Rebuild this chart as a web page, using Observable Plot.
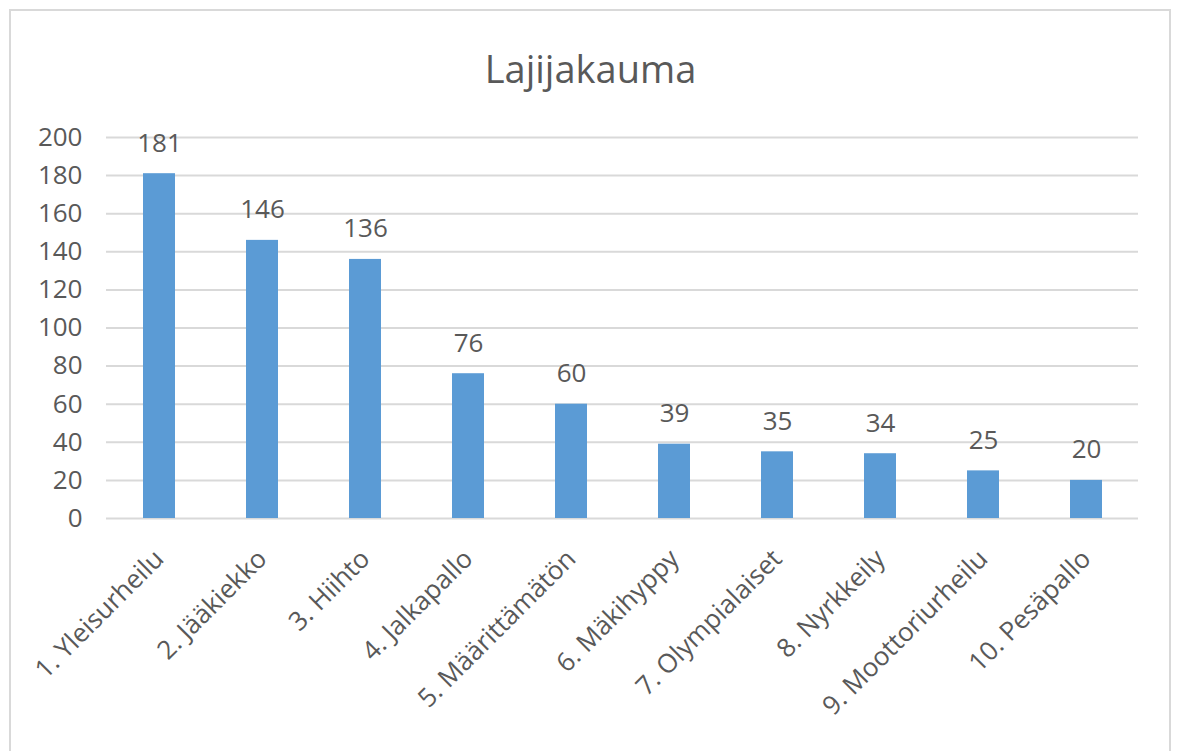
<!DOCTYPE html>
<html>
<head>
<meta charset="utf-8">
<script src="https://cdn.jsdelivr.net/npm/d3@7"></script>
<script src="https://cdn.jsdelivr.net/npm/@observablehq/plot@0.6"></script>
<style>
  html, body { margin: 0; padding: 0; background: #fff; }
  #wrap { position: relative; width: 1180px; height: 751px; overflow: hidden; font-family: "Open Sans", sans-serif; }
  #frame { position: absolute; left: 9px; top: 9px; width: 1162px; height: 800px; border: 2px solid #d9d9d9; box-sizing: border-box; }
  #title { position: absolute; left: 9px; width: 1163px; top: 44px; text-align: center; font-size: 38px; line-height: 48px; color: #595959; }
  #chart { position: absolute; left: 0; top: 0; }
</style>
</head>
<body>
<div id="wrap">
  <div id="frame"></div>
  <div id="title">Lajijakauma</div>
  <div id="chart"></div>
</div>
<script>
const categories = ["1. Yleisurheilu", "2. Jääkiekko", "3. Hiihto", "4. Jalkapallo", "5. Määrittämätön", "6. Mäkihyppy", "7. Olympialaiset", "8. Nyrkkeily", "9. Moottoriurheilu", "10. Pesäpallo"];
const values = [181, 146, 136, 76, 60, 39, 35, 34, 25, 20];
const yTicks = [0, 20, 40, 60, 80, 100, 120, 140, 160, 180, 200];

const data = categories.map((c, i) => ({category: c, value: values[i]}));

const chart = Plot.plot({
  width: 1180,
  height: 751,
  marginLeft: 106,
  marginRight: 42,
  marginTop: 137,
  marginBottom: 233,
  style: {fontFamily: "Open Sans, sans-serif", fontSize: "25px", color: "#595959", background: "transparent"},
  x: {domain: categories, paddingInner: 0.69, paddingOuter: 0.345, label: null},
  y: {domain: [0, 200], label: null},
  marks: [
    Plot.gridY(yTicks, {stroke: "#d9d9d9", strokeOpacity: 1, strokeWidth: 2}),
    Plot.barY(data, {x: "category", y: "value", fill: "#5b9bd5"}),
    Plot.text(data, {x: "category", y: "value", text: d => String(d.value), lineAnchor: "bottom", dy: -22, fill: "#595959", fontSize: 26}),
    Plot.axisY(yTicks, {tickSize: 0, tickPadding: 24, fontSize: 26, fill: "#595959", label: null}),
    Plot.axisX({tickSize: 0, tickPadding: 36, tickRotate: -45, fontSize: 26, fill: "#595959", label: null})
  ]
});
document.getElementById("chart").appendChild(chart);
</script>
</body>
</html>
